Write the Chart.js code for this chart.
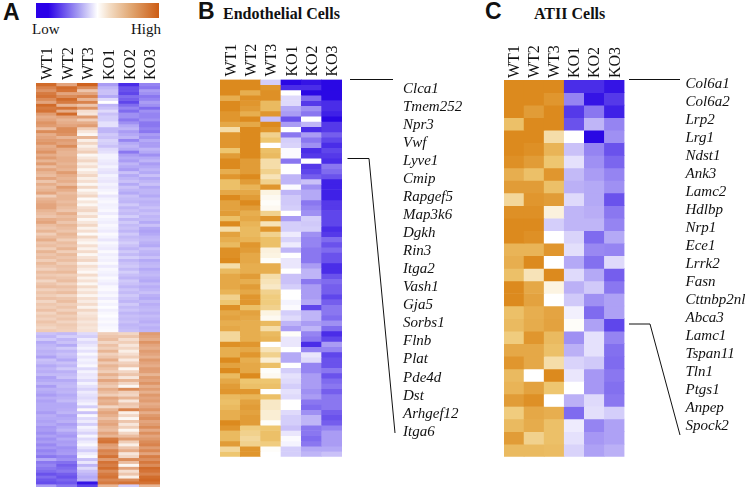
<!DOCTYPE html>
<html><head><meta charset="utf-8">
<script src="https://cdn.jsdelivr.net/npm/chart.js@4"></script>
<style>
html,body{margin:0;padding:0;background:#fff;width:747px;height:488px;overflow:hidden}
canvas{position:absolute;top:0;filter:blur(.35px)}
.t{position:absolute;white-space:nowrap;color:#111}
.s{font-family:"Liberation Serif",serif}
.big{font:bold 23px "Liberation Sans",sans-serif}
svg{position:absolute;left:0;top:0}
#grad{position:absolute;left:36px;top:3px;width:123px;height:15px;background:linear-gradient(90deg,#2a00e8 0%,#2a00e8 10%,#a9a0f2 35%,#fff 50%,#f3dcc4 60%,#e0a46e 78%,#cc5c14 100%)}
</style></head><body>
<div id="grad"></div>
<div class="t s" style="left:32px;top:21px;font-size:15px">Low</div>
<div class="t s" style="left:131px;top:21px;font-size:15px">High</div>
<div class="t big" style="left:3px;top:-1px">A</div>
<div class="t big" style="left:198px;top:-2px">B</div>
<div class="t big" style="left:485px;top:-2px">C</div>
<div class="t s" style="left:223px;top:5px;font-size:16px;font-weight:bold">Endothelial Cells</div>
<div class="t s" style="left:534px;top:5px;font-size:16px;font-weight:bold">ATII Cells</div>
<svg width="747" height="488" fill="none" stroke="#111" stroke-width="1">
<path d="M350 79.5H393"/><path d="M347.5 158.5H369L395 433"/>
<path d="M629 79.5H680"/><path d="M629 324H650L680 435"/>
</svg>
<canvas id="a" style="left:36px"></canvas>
<canvas id="b" style="left:220px"></canvas>
<canvas id="c" style="left:504px"></canvas>
<script>
const samples=["WT1","WT2","WT3","KO1","KO2","KO3"];
const genesB=["Clca1","Tmem252","Npr3","Vwf","Lyve1","Cmip","Rapgef5","Map3k6","Dgkh","Rin3","Itga2","Vash1","Gja5","Sorbs1","Flnb","Plat","Pde4d","Dst","Arhgef12","Itga6"];
const genesC=["Col6a1","Col6a2","Lrp2","Lrg1","Ndst1","Ank3","Lamc2","Hdlbp","Nrp1","Ece1","Lrrk2","Fasn","Cttnbp2nl","Abca3","Lamc1","Tspan11","Tln1","Ptgs1","Anpep","Spock2"];
const valuesA=[
[90,55,95,-40,-85,-50],[75,90,70,-30,-70,-55],[65,85,35,-25,-70,-40],[80,55,55,-25,-75,-45],[85,70,75,-35,-60,-55],[70,90,45,-15,-65,-50],[55,80,75,0,-75,-40],[90,45,35,-30,-60,-45],[80,85,65,-25,-50,-60],[85,50,20,-15,-60,-45],
[60,90,15,-25,-45,-50],[50,55,60,-20,-45,-50],[55,45,30,-20,-55,-45],[65,50,50,-12,-45,-55],[60,55,60,-12,-35,-55],[40,70,30,-30,-30,-50],[70,70,15,-30,-40,-55],[50,65,5,-22,-35,-40],[55,45,45,-25,-30,-45],[60,60,10,-18,-50,-35],
[65,55,25,-20,-35,-40],[50,70,10,-25,-30,-40],[55,50,20,-15,-35,-30],[65,45,30,-12,-55,-35],[50,45,5,-5,-40,-45],[60,50,15,-5,-35,-35],[45,50,25,-8,-40,-30],[60,45,10,-10,-30,-40],[40,50,20,-5,-35,-35],[55,45,5,-10,-40,-30],
[45,60,15,-12,-25,-35],[40,50,25,-5,-35,-25],[55,45,10,-8,-30,-35],[35,50,20,-10,-25,-30],[50,40,5,-5,-35,-25],[40,60,25,-8,-25,-35],[45,50,5,-5,-30,-30],[55,40,15,-2,-35,-30],[30,45,25,-10,-25,-35],[45,45,3,-5,-28,-28],
[50,40,15,-3,-30,-32],[55,45,5,-6,-22,-30],[55,40,20,-5,-30,-25],[45,35,25,-3,-25,-30],[40,50,10,-8,-28,-25],[35,40,22,-2,-20,-30],[50,45,5,-5,-30,-28],[55,35,15,-7,-22,-35],[40,45,25,-3,-28,-25],[35,40,8,-5,-25,-35],
[45,35,20,-8,-30,-38],[30,45,3,-2,-22,-35],[40,40,25,-5,-28,-30],[50,30,12,-10,-25,-28],[35,40,5,-3,-20,-32],[40,35,20,-6,-25,-35],[30,45,8,-8,-30,-25],[45,30,22,-2,-22,-30],[35,42,5,-7,-28,-32],[40,35,18,-4,-20,-25],
[30,40,25,-6,-30,-35],[42,30,6,-2,-25,-30],[35,38,20,-8,-22,-28],[28,35,12,-3,-28,-35],[40,42,4,-5,-20,-30],[32,30,22,-7,-26,-28],[38,35,8,-2,-30,-32],[25,40,18,-5,-22,-35],[35,28,5,-8,-25,-28],[40,38,22,-3,-30,-33],
[28,32,10,-2,-24,-30],[36,40,18,-6,-28,-25],[30,25,6,-3,-22,-32],[38,35,20,-8,-26,-35],[25,40,12,-2,-30,-28],[34,30,22,-5,-22,-33],[30,36,8,-1,-28,-30],[38,28,25,-6,-24,-28],[26,38,14,-3,-30,-32],[33,30,18,-1,-26,-27],
[28,35,22,-4,-28,-30],[36,26,15,-2,-25,-33],[30,33,20,-5,-30,-28],[25,30,16,-3,-28,-32],[32,28,18,-2,-26,-30],
[-25,-28,-15,30,25,60],[-30,-20,-20,35,35,55],[-22,-30,-8,40,20,50],[-35,-25,-15,25,30,65],[-30,-35,-10,38,15,55],[-28,-22,-5,30,25,50],[-32,-30,-12,45,10,60],[-30,-25,-3,28,20,55],[-38,-28,-10,35,30,48],[-25,-35,-5,50,12,62],
[-28,-25,-8,32,28,55],[-35,-30,-3,45,35,50],[-30,-22,-15,38,5,60],[-33,-32,-5,30,25,58],[-28,-28,-10,48,35,45],[-38,-25,-8,35,15,60],[-35,-35,-15,55,45,55],[-30,-30,-5,40,25,65],[-40,-28,-12,32,5,50],[-32,-32,-18,50,70,60],
[-35,-30,-8,40,30,48],[-40,-35,-12,30,25,62],[-33,-32,-15,55,45,55],[-38,-28,-10,45,15,60],[-35,-35,-5,50,35,50],[-35,-35,-20,25,30,55],[-35,-33,3,45,75,65],[-40,-30,-25,55,10,50],[-33,-38,-3,48,25,62],[-35,-35,-15,38,5,68],
[-38,-32,-8,50,35,55],[-35,-40,-20,55,15,60],[-42,-35,-5,45,30,70],[-40,-30,-10,40,5,52],[-45,-38,-18,55,25,68],[-38,-42,-4,45,40,55],[-45,-35,-15,80,60,62],[-40,-40,-8,85,30,70],[-48,-38,-3,60,10,75],[-42,-45,-12,55,35,60],
[-50,-42,-20,75,50,72],[-45,-40,-8,70,15,55],[-55,-50,-3,85,25,78],[-35,-45,-25,60,70,68],[-55,-58,-10,85,40,82],[-50,-65,-30,78,5,70],[-55,-60,-15,88,55,90],[-60,-55,-25,70,20,85],[-70,-65,-30,80,35,75],[-60,-70,-35,85,10,88],
[-68,-62,-30,72,70,92],[-72,-68,-95,80,85,85],[-40,-55,-75,45,-20,45]
];
const valuesB=[
[100,100,-20,-100,-95,-100],[100,100,90,-85,-85,-100],[100,70,95,0,-100,-100],[70,95,95,-15,-60,-100],[100,90,60,-15,-80,-85],[100,85,60,-35,-45,-85],[90,70,90,-40,-55,-90],[90,100,-25,-70,0,-100],[75,75,100,-40,-30,-80],[30,100,90,0,-85,-80],[90,100,40,-55,-40,-65],[90,100,50,-20,-55,-75],[90,100,0,-18,-45,-85],[50,100,55,-2,-85,-75],[85,100,60,-2,-80,-80],[100,85,30,-55,0,-85],
[100,85,30,0,-80,-55],[70,85,40,0,-75,-60],[90,100,25,-30,-65,-70],[55,85,40,-30,-25,-90],[55,65,90,-2,-45,-90],[75,75,10,-30,-35,-90],[100,85,5,-22,-35,-90],[80,100,2,-22,-55,-80],[80,85,5,-20,-50,-80],[85,70,40,0,-45,-75],[55,75,90,-40,-20,-75],[100,65,25,-20,-22,-75],[30,60,90,-20,-20,-85],[80,60,40,-8,-45,-80],[70,65,55,-18,-50,-60],[60,90,55,-8,-50,-70],
[95,85,12,-30,-55,-60],[95,75,10,0,-55,-70],[100,75,2,-10,-55,-70],[30,70,70,-10,-40,-85],[60,70,70,0,-30,-85],[75,85,30,-25,-30,-70],[75,70,25,-25,-55,-60],[75,85,20,-20,-40,-65],[65,75,40,0,-40,-65],[40,90,45,0,-40,-75],[50,90,45,-5,-35,-65],[95,55,40,-2,-75,-55],[75,80,10,-20,-30,-55],[80,75,5,-15,-30,-60],[70,70,60,-30,-40,-45],
[75,70,30,-40,-30,-60],[35,70,60,2,-50,-85],[35,70,65,-10,-55,-75],[95,90,0,-10,-85,-40],[70,75,25,0,-50,-50],[70,90,40,-35,-10,-75],[100,70,15,-35,-15,-70],[80,75,55,0,-50,-70],[100,75,2,-20,-50,-55],[60,100,5,-12,-40,-70],[75,50,50,-15,-40,-60],[85,55,55,-20,-40,-55],[90,90,0,-12,-45,-65],[60,65,55,-15,-40,-55],[55,80,20,0,-55,-55],[60,85,20,0,-60,-55],[70,80,15,-15,-45,-65],[70,85,15,-20,-30,-70],[100,85,2,-20,-30,-65],[90,45,50,-25,-55,-50],[60,40,55,-10,-55,-40],[60,35,55,-2,-60,-40],[85,40,45,-5,-55,-40],[35,90,2,-20,-35,-35],[50,90,0,-20,-30,-25]
];
const valuesC=[
[100,100,100,-85,-85,-95],[100,100,90,-50,-95,-80],[100,85,100,-80,-55,-90],[55,100,100,-70,-30,-50],[100,100,30,0,-100,-45],[100,95,65,-25,-50,-70],[95,85,50,-12,-45,-62],[70,55,90,-28,-40,-50],[85,85,55,-32,-35,-45],[35,90,85,-15,-35,-70],
[95,95,12,-30,-33,-55],[100,100,-20,-30,-30,-50],[100,95,0,-18,-60,-35],[65,65,90,-13,-48,-50],[70,100,0,-35,-58,-15],[55,25,100,-15,-35,-65],[100,75,10,-32,-22,-55],[100,80,0,-22,-45,-38],[55,70,78,-6,-60,-38],[60,72,80,2,-38,-75],
[45,90,60,-45,-12,-50],[75,75,55,-32,-12,-58],[90,75,30,-18,-22,-60],[60,0,100,-10,-42,-55],[65,80,50,0,-42,-58],[85,95,0,-32,-15,-55],[45,75,70,-60,-13,-20],[60,72,55,-8,-50,-38],[85,40,55,-12,-42,-38],[60,60,58,-18,-38,-32]
];
function lerp(a,b,t){return a.map((c,i)=>Math.round(c+(b[i]-c)*t))}
const white=[255,255,255],blue=[42,8,228],orange=[204,90,18],gold=[220,138,30],goldMid=[238,198,112];
function colorFor(v,high,mid){
  const t=Math.min(1,Math.abs(v)/100);let c;
  if(v<0) c=lerp(white,blue,t);
  else if(mid) c=t<.5?lerp(white,mid,t*2):lerp(mid,high,(t-.5)*2);
  else c=lerp(white,high,t);
  return `rgb(${c.join(",")})`;
}
function noPad(s){s.paddingLeft=0;s.paddingRight=0;s.paddingTop=0;s.paddingBottom=0}
function heat(id,values,high,mid,genes,o){
  const el=document.getElementById(id);el.width=o.w;el.height=488;
  const scales={
    x:{type:"category",position:"top",stacked:true,grid:{display:false,drawTicks:false},border:{display:false},
       ticks:{color:"#111",font:{family:"Liberation Serif",size:o.fs},minRotation:90,maxRotation:90,padding:o.lp,autoSkip:false,labelOffset:o.hw/6},
       afterFit:s=>{s.height=o.top;noPad(s)}},
    y:{type:"linear",display:false,stacked:true,reverse:true,min:0,max:values.length}
  };
  if(genes) scales.g={type:"linear",position:"right",reverse:true,min:o.gmin,max:o.gmax,grid:{display:false,drawTicks:false},border:{display:false},
       ticks:{color:"#111",font:{family:"Liberation Serif",size:15,style:"italic"},padding:o.gp,autoSkip:false,callback:v=>genes[v]},
       afterBuildTicks:s=>{s.ticks=genes.map((_,i)=>({value:i}))},
       afterFit:s=>{s.width=o.w-o.hw;noPad(s)}};
  new Chart(el,{type:"bar",
    data:{labels:samples,datasets:values.map(r=>({data:samples.map(()=>1),stack:"h",
      backgroundColor:r.map(v=>colorFor(v,high,mid)),borderWidth:0,barPercentage:1,categoryPercentage:1}))},
    options:{responsive:false,animation:false,events:[],layout:{padding:{left:0,right:0,top:0,bottom:488-o.bottom}},
      plugins:{legend:{display:false},tooltip:{enabled:false},title:{display:false}},scales}});
}
heat("a",valuesA,orange,null,null,{w:124,hw:124,top:83,bottom:487,fs:16,lp:3});
heat("b",valuesB,gold,goldMid,genesB,{w:250,hw:122,top:79.5,bottom:456.7,fs:16,lp:3,gmin:-0.51,gmax:20.38,gp:61});
heat("c",valuesC,gold,goldMid,genesC,{w:243,hw:120.5,top:80,bottom:456.7,fs:16,lp:2,gmin:-0.24,gmax:20.7,gp:61});
</script>
</body></html>
